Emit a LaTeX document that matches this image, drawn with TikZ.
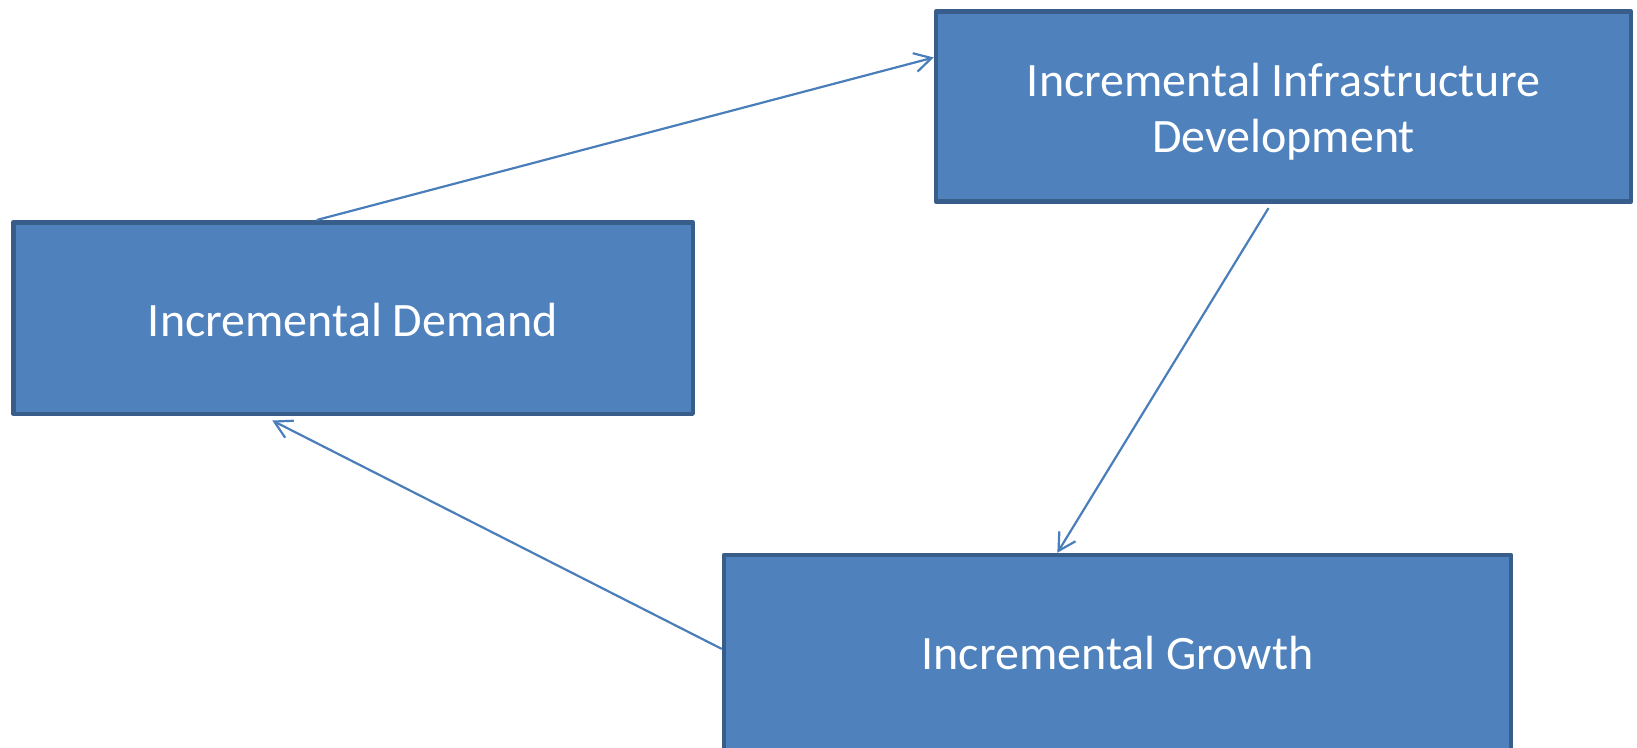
\documentclass[tikz,border=0pt]{standalone}
\usepackage{fontspec}
\setmainfont{Carlito}
\usetikzlibrary{arrows.meta,calc}
\definecolor{boxfill}{HTML}{4F81BD}
\definecolor{boxline}{HTML}{385D8A}
\definecolor{arrowcol}{HTML}{4A7EBB}
\begin{document}
\begin{tikzpicture}[x=1pt,y=-1pt,
  box/.style={draw=boxline, fill=boxfill, line width=4.5pt, line join=round, inner sep=0pt},
  boxtext/.style={text=white, font=\fontsize{48}{56.5}\selectfont, align=center, inner sep=0pt},
  conn/.style={draw=arrowcol, line width=2.2pt, -{Straight Barb[length=17pt,width=19pt,line width=2.2pt]}}]
\useasboundingbox (0,0) rectangle (1637,747);
\fill[white] (0,0) rectangle (1637,747);
\node[box, minimum width=679.5pt, minimum height=191.5pt] (dem) at (353,318) {};
\node[boxtext] (demt) at ($(dem.center)+(0,2)$) {Incremental Demand};
\node[box, minimum width=695pt, minimum height=190pt] (inf) at (1283.5,106.5) {};
\node[boxtext] (inft) at ($(inf.center)+(0,5)$) {Incremental Infrastructure\\Development};
\node[box, minimum width=787pt, minimum height=195pt] (gro) at (1117.5,652.5) {};
\node[boxtext] (grot) at (gro.center) {Incremental Growth};
\draw[conn] ($(dem.north west)!0.447!(dem.north east)$) -- ($(inf.north west)!0.248!(inf.south west)$);
\draw[conn] ($(inf.south west)!0.4785!(inf.south east)+(0,4.4)$) -- ($(gro.north west)!0.424!(gro.north east)$);
\draw[conn] ($(gro.north west)!0.482!(gro.south west)$) -- ($(dem.south west)!0.382!(dem.south east)+(0,4.5)$);
\end{tikzpicture}
\end{document}
